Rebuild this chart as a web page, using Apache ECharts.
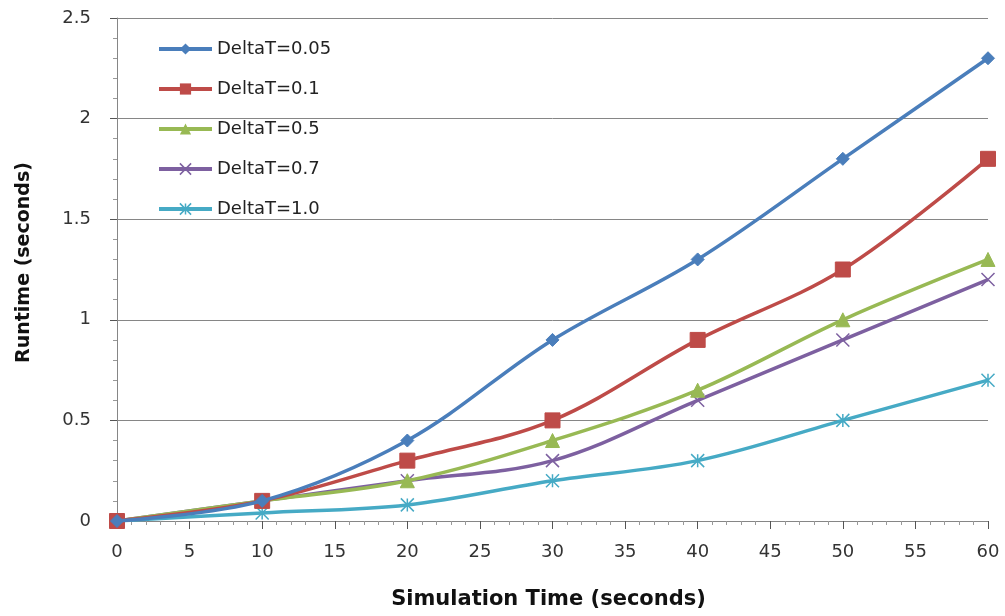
<!DOCTYPE html>
<html><head><meta charset="utf-8">
<script src="https://cdn.jsdelivr.net/npm/echarts@6/dist/echarts.min.js"></script>
<style>html,body{margin:0;padding:0;background:#fff}#c{width:1005px;height:616px}</style>
</head><body><div id="c"></div>
<script>
const xValues = [0, 10, 20, 30, 40, 50, 60];
const seriesNames = ['DeltaT=0.05', 'DeltaT=0.1', 'DeltaT=0.5', 'DeltaT=0.7', 'DeltaT=1.0'];
const dt005 = [0, 0.1, 0.4, 0.9, 1.3, 1.8, 2.3];
const dt01  = [0, 0.1, 0.3, 0.5, 0.9, 1.25, 1.8];
const dt05  = [0, 0.1, 0.2, 0.4, 0.65, 1.0, 1.3];
const dt07  = [0, 0.1, 0.2, 0.3, 0.6, 0.9, 1.2];
const dt10  = [0, 0.04, 0.08, 0.2, 0.3, 0.5, 0.7];
const allValues = [dt005, dt01, dt05, dt07, dt10];
const colors = ['#4A7EBB', '#BE4B48', '#98B954', '#7D60A0', '#46AAC5'];
const symbols = [
  'diamond',
  'rect',
  'triangle',
  'path://M0,0L10,10M10,0L0,10',
  'path://M0,0L10,10M10,0L0,10M5,0L5,10'
];
const sizes = [13, 15, 14, 13, 13];

const font = 'DejaVu Sans';
const series = seriesNames.map((n, i) => ({
  name: n,
  type: 'line',
  smooth: 0.35,
  data: xValues.map((x, j) => [x, allValues[i][j]]),
  symbol: symbols[i],
  symbolSize: sizes[i],
  showAllSymbol: true,
  lineStyle: { color: colors[i], width: 3.5 },
  itemStyle: i >= 3 ? { color: 'rgba(0,0,0,0)', borderColor: colors[i], borderWidth: 1.5 } : { color: colors[i], borderColor: colors[i] },
  z: 10 - i
}));

const chart = echarts.init(document.getElementById('c'));
chart.setOption({
  animation: false,
  backgroundColor: '#fff',
  color: colors,
  grid: { left: 117, right: 17, top: 18, bottom: 95 },
  legend: {
    orient: 'vertical',
    left: 152, top: 35,
    itemGap: 22,
    itemWidth: 53, itemHeight: 14,
    lineStyle: { width: 4 },
    textStyle: { fontFamily: font, fontSize: 18, color: '#222' },
    data: seriesNames.map((n, i) => ({ name: n, itemStyle: series[i].itemStyle }))
  },
  xAxis: {
    type: 'value', min: 0, max: 60, interval: 5,
    name: 'Simulation Time (seconds)', nameLocation: 'middle', nameGap: 68,
    nameTextStyle: { fontFamily: font, fontSize: 21, fontWeight: 'bold', color: '#111', padding: [0, 8, 0, 0] },
    axisLine: { lineStyle: { color: '#868686', width: 1 } },
    axisTick: { show: true, length: 8, lineStyle: { color: '#555' } },
    minorTick: { show: true, splitNumber: 5, length: 4, lineStyle: { color: '#999' } },
    axisLabel: { fontFamily: font, fontSize: 18, color: '#333', margin: 22 },
    splitLine: { show: false }
  },
  yAxis: {
    type: 'value', min: 0, max: 2.5, interval: 0.5,
    name: 'Runtime (seconds)', nameLocation: 'middle', nameGap: 83, nameRotate: 90,
    nameTextStyle: { fontFamily: font, fontSize: 19, fontWeight: 'bold', color: '#111', padding: [0, 0, 0, 14] },
    axisLine: { show: true, lineStyle: { color: '#868686', width: 1 } },
    axisTick: { show: true, length: 7, lineStyle: { color: '#555' } },
    minorTick: { show: true, splitNumber: 5, length: 4, lineStyle: { color: '#999' } },
    axisLabel: { fontFamily: font, fontSize: 18, color: '#333', margin: 26 },
    splitLine: { show: true, lineStyle: { color: '#868686', width: 1 } }
  },
  series: series
});
</script></body></html>
